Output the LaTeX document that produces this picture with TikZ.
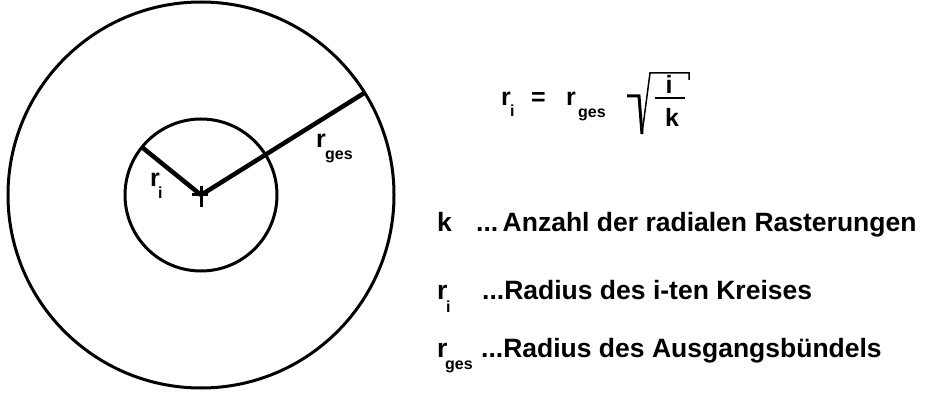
\documentclass[tikz,border=0pt]{standalone}
\usepackage{fontspec}
\setmainfont{Liberation Sans}
\begin{document}
\begin{tikzpicture}[x=1pt,y=-1pt,
  ring/.style={draw, circle, inner sep=0pt, outer sep=0pt, line width=3pt},
  radius line/.style={line width=4.5pt, line cap=butt},
  txt/.style={font=\fontsize{26.5}{28}\selectfont\bfseries, inner sep=0pt, anchor=base west},
  lbl/.style={font=\fontsize{25}{27}\selectfont\bfseries, inner sep=0pt, anchor=base west},
  sub/.style={font=\fontsize{16}{18}\selectfont\bfseries, inner sep=0pt, anchor=base west}]
\useasboundingbox (0,0) rectangle (927,401);
\coordinate (c) at (201,195);
\node[ring, minimum size=386pt] (outer) at (c) {};
\node[ring, minimum size=152pt] (inner) at (c) {};
% radii
\draw[radius line] (c) -- (inner.141.6);
\draw[radius line] (c) -- (outer.32.4);
% centre cross
\draw[line width=3pt] ([yshift=9pt]c) -- ([yshift=-12pt]c);
\draw[line width=3pt] ([xshift=-9pt]c) -- ([xshift=7pt]c);
% labels in circle
\node[lbl] (ril) at (150,187) {r};
\node[sub] (risub) at (158,198) {i};
\node[lbl] (rgl) at (316,148) {r};
\node[sub] (rgsub) at (325,160) {ges};
% formula
\node[lbl] (fr) at (501,106) {r};
\node[sub] (fi) at (510,117) {i};
\node[lbl] (feq) at (531,106) {=};
\node[lbl] (fr2) at (566,106) {r};
\node[sub] (fges) at (578,118) {ges};
\coordinate (s1) at (627,96);
\coordinate (s2) at (639,96);
\coordinate (s3) at (642,134);
\coordinate (s4) at (650,73);
\coordinate (s5) at (689,73);
\coordinate (s6) at (689,80);
\draw[line width=3pt, line join=miter] (s1) -- (s2) -- (s3);
\draw[line width=1.5pt] (s3) -- (s4) -- (s5) -- (s6);
\node[lbl, anchor=base] (fnum) at (669,94) {i};
\draw[line width=2.5pt] (655,98) -- (685,98);
\node[lbl, anchor=base] (fden) at (672,127) {k};
% legend
\node[txt] (k) at (437,232) {k};
\node[txt] (kt) at (476,232) {...\,Anzahl der radialen Rasterungen};
\node[txt] (r1) at (437,299) {r};
\node[sub] (r1s) at (446,312) {i};
\node[txt] (r1t) at (482,299) {...Radius des i-ten Kreises};
\node[txt] (r2) at (437,357) {r};
\node[sub] (r2s) at (445,369) {ges};
\node[txt] (r2t) at (481,357) {...Radius des Ausgangsbündels};
\end{tikzpicture}
\end{document}
